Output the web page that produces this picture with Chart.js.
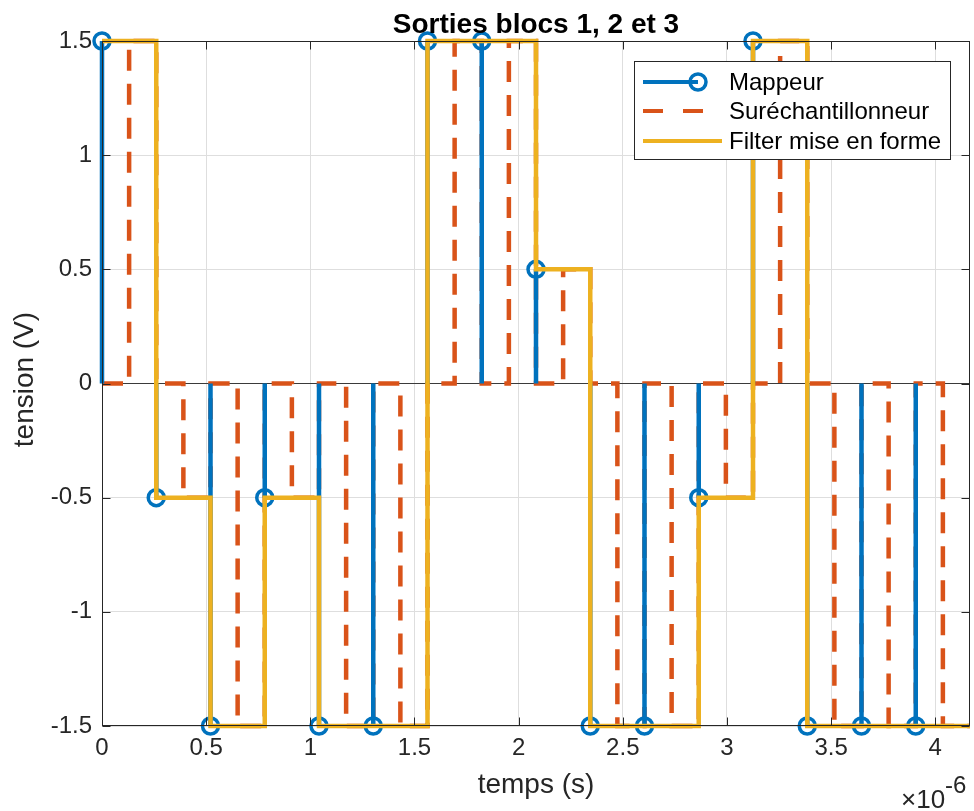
<!DOCTYPE html>
<html lang="fr">
<head>
<meta charset="utf-8">
<title>Sorties blocs 1, 2 et 3</title>
<script src="https://cdn.jsdelivr.net/npm/chart.js@4.4.1/dist/chart.umd.min.js"></script>
<style>
  html, body { margin: 0; padding: 0; background: #fff; overflow: hidden; }
  canvas { display: block; }
</style>
</head>
<body>
<canvas id="sortiesChart" width="974" height="811"></canvas>
<script>
// Données (axe des temps en µs, affiché avec x10^-6)
const Ts = 1 / 3.84; // période symbole en µs
const mappeur = [1.5, -0.5, -1.5, -0.5, -1.5, -1.5, 1.5, 1.5, 0.5, -1.5, -1.5, -0.5, 1.5, -1.5, -1.5, -1.5];
const surechantillonneur = [
    0, 1.5, 0, -0.5, 0, -1.5, 0, -0.5, 0, -1.5, 0, -1.5, 0, 1.5, 0, 1.5,
    0, 0.5, 0, -1.5, 0, -1.5, 0, -0.5, 0, 1.5, 0, -1.5, 0, -1.5, 0, -1.5
];
const filtreMiseEnForme = [1.5, -0.5, -1.5, -0.5, -1.5, -1.5, 1.5, 1.5, 0.5, -1.5, -1.5, -0.5, 1.5, -1.5, -1.5, -1.5];
const xTicks = [0, 0.5, 1, 1.5, 2, 2.5, 3, 3.5, 4];
const yTicks = [-1.5, -1, -0.5, 0, 0.5, 1, 1.5];
const legendLabels = ['Mappeur', 'Suréchantillonneur', 'Filter mise en forme'];

const BLUE = '#0072BD';
const RED = '#D95319';
const YELLOW = '#EDB120';
const AXIS = '#262626';
const FONT = "'Liberation Sans', Arial, Helvetica, sans-serif";
const RED_DASH = [21, 13];

document.addEventListener("DOMContentLoaded", () => {
    const xMax = mappeur.length * Ts;

    // stem : segments verticaux depuis 0, séparés par des trous
    const stemPts = [];
    mappeur.forEach((v, k) => {
        stemPts.push({ x: k * Ts, y: 0 }, { x: k * Ts, y: v }, { x: k * Ts, y: null });
    });
    const markerPts = mappeur.map((v, k) => ({ x: k * Ts, y: v }));

    // stairs façon MATLAB (dernier palier prolongé jusqu'à la fin)
    function stairs(vals, dt) {
        const pts = vals.map((v, i) => ({ x: i * dt, y: v }));
        pts.push({ x: xMax, y: vals[vals.length - 1] });
        return pts;
    }

    // zone de tracé fixe, comme l'axe MATLAB
    const cadre = {
        id: 'cadre',
        afterLayout(chart) {
            const a = chart.chartArea;
            a.left = 102; a.right = 970; a.top = 41; a.bottom = 726;
            a.width = a.right - a.left; a.height = a.bottom - a.top;
            const sx = chart.scales.x, sy = chart.scales.y;
            sx.left = a.left; sx.right = a.right; sx.width = a.width;
            sx.top = a.bottom; sx.bottom = 811; sx.height = 811 - a.bottom;
            sy.left = 0; sy.right = a.left; sy.width = a.left;
            sy.top = a.top; sy.bottom = a.bottom; sy.height = a.height;
            sx.configure();
            sy.configure();
        }
    };

    const habillage = {
        id: 'habillage',
        afterDatasetsDraw(chart) {
            const { ctx, chartArea: a, scales } = chart;
            const L = Math.round(a.left) + 0.5, R = Math.round(a.right) - 0.5;
            const T = Math.round(a.top) + 0.5, B = Math.round(a.bottom) - 0.5;
            ctx.save();
            ctx.strokeStyle = AXIS;
            ctx.lineWidth = 1;
            ctx.strokeRect(L, T, R - L, B - T);
            // graduations vers l'intérieur
            const tl = 8;
            ctx.beginPath();
            xTicks.forEach(v => {
                const px = Math.round(scales.x.getPixelForValue(v)) + 0.5;
                ctx.moveTo(px, B); ctx.lineTo(px, B - tl);
                ctx.moveTo(px, T); ctx.lineTo(px, T + tl);
            });
            yTicks.forEach(v => {
                const py = Math.round(scales.y.getPixelForValue(v)) + 0.5;
                ctx.moveTo(L, py); ctx.lineTo(L + tl, py);
                ctx.moveTo(R, py); ctx.lineTo(R - tl, py);
            });
            ctx.stroke();

            // légende
            const bx = 634.5, by = 61.5, bw = 316, bh = 98;
            ctx.fillStyle = '#fff';
            ctx.fillRect(bx, by, bw, bh);
            ctx.strokeStyle = AXIS;
            ctx.lineWidth = 1;
            ctx.strokeRect(bx, by, bw, bh);
            const rows = [82, 111, 141];
            ctx.lineWidth = 4;
            // Mappeur
            ctx.strokeStyle = BLUE;
            ctx.beginPath(); ctx.moveTo(643, rows[0]); ctx.lineTo(698, rows[0]); ctx.stroke();
            ctx.lineWidth = 3.5;
            ctx.beginPath(); ctx.arc(698, rows[0], 8, 0, Math.PI * 2); ctx.stroke();
            // Suréchantillonneur
            ctx.lineWidth = 4;
            ctx.strokeStyle = RED;
            ctx.setLineDash([20, 20]);
            ctx.beginPath(); ctx.moveTo(643, rows[1]); ctx.lineTo(703, rows[1]); ctx.stroke();
            ctx.setLineDash([]);
            // Filtre
            ctx.strokeStyle = YELLOW;
            ctx.beginPath(); ctx.moveTo(643, rows[2]); ctx.lineTo(722, rows[2]); ctx.stroke();
            ctx.fillStyle = '#000';
            ctx.font = '24px ' + FONT;
            ctx.textAlign = 'left';
            ctx.textBaseline = 'middle';
            legendLabels.forEach((txt, i) => ctx.fillText(txt, 729, rows[i] + 1));
            ctx.restore();
        },
        afterDraw(chart) {
            const { ctx, chartArea: a } = chart;
            ctx.save();
            const cx = (a.left + a.right) / 2;
            ctx.textAlign = 'center';
            ctx.textBaseline = 'alphabetic';
            ctx.fillStyle = '#000';
            ctx.font = 'bold 28px ' + FONT;
            ctx.fillText('Sorties blocs 1, 2 et 3', cx, 33);
            ctx.fillStyle = AXIS;
            ctx.font = '28px ' + FONT;
            ctx.fillText('temps (s)', cx, 793);
            ctx.save();
            ctx.translate(33, (a.top + a.bottom) / 2 - 4);
            ctx.rotate(-Math.PI / 2);
            ctx.fillText('tension (V)', 0, 0);
            ctx.restore();
            // multiplicateur de l'axe x
            ctx.textAlign = 'left';
            ctx.font = '26px ' + FONT;
            ctx.fillText('×10', 901, 808);
            const w = ctx.measureText('×10').width;
            ctx.font = '24px ' + FONT;
            ctx.fillText('-6', 901 + w, 793);
            ctx.restore();
        }
    };

    new Chart(document.getElementById("sortiesChart"), {
        type: 'line',
        data: {
            datasets: [
                {
                    label: legendLabels[2],
                    data: stairs(filtreMiseEnForme, Ts),
                    borderColor: YELLOW,
                    borderWidth: 4.5,
                    stepped: 'before',
                    pointRadius: 0,
                    fill: false,
                    clip: false,
                    order: 0
                },
                {
                    label: legendLabels[0] + ' (marqueurs)',
                    data: markerPts,
                    showLine: false,
                    pointStyle: 'circle',
                    pointRadius: 8,
                    pointBorderWidth: 3.5,
                    pointBorderColor: BLUE,
                    pointBackgroundColor: 'rgba(0,0,0,0)',
                    clip: false,
                    order: 1
                },
                {
                    label: legendLabels[0],
                    data: stemPts,
                    borderColor: BLUE,
                    borderWidth: 4.5,
                    spanGaps: false,
                    pointRadius: 0,
                    fill: false,
                    clip: false,
                    order: 2
                },
                {
                    label: legendLabels[1],
                    data: stairs(surechantillonneur, Ts / 2),
                    borderColor: RED,
                    borderWidth: 4.5,
                    borderDash: RED_DASH,
                    stepped: 'before',
                    pointRadius: 0,
                    fill: false,
                    clip: false,
                    order: 3
                },
                {
                    label: 'baseline',
                    data: [{ x: 0, y: 0 }, { x: xMax, y: 0 }],
                    borderColor: '#3a3a3a',
                    borderWidth: 1,
                    pointRadius: 0,
                    fill: false,
                    order: 4
                }
            ]
        },
        options: {
            responsive: false,
            animation: false,
            devicePixelRatio: 1,
            layout: { padding: { top: 41, right: 4, left: 0, bottom: 0 } },
            plugins: {
                legend: { display: false },
                title: { display: false },
                tooltip: { enabled: false }
            },
            elements: { line: { tension: 0 } },
            scales: {
                x: {
                    type: 'linear',
                    min: 0,
                    max: xMax,
                    afterBuildTicks: (scale) => { scale.ticks = xTicks.map(v => ({ value: v })); },
                    afterFit: (scale) => { scale.height = 85; },
                    grid: { color: '#dedede', lineWidth: 1, drawTicks: false },
                    border: { display: false },
                    ticks: {
                        padding: 8,
                        color: AXIS,
                        font: { family: FONT, size: 24 },
                        maxRotation: 0,
                        autoSkip: false,
                        callback: (v) => String(v)
                    }
                },
                y: {
                    type: 'linear',
                    min: -1.5,
                    max: 1.5,
                    afterBuildTicks: (scale) => { scale.ticks = yTicks.map(v => ({ value: v })); },
                    afterFit: (scale) => { scale.width = 102; },
                    grid: { color: '#dedede', lineWidth: 1, drawTicks: false },
                    border: { display: false },
                    ticks: {
                        padding: 10,
                        color: AXIS,
                        font: { family: FONT, size: 24 },
                        autoSkip: false,
                        callback: (v) => String(v)
                    }
                }
            }
        },
        plugins: [cadre, habillage]
    });
});
</script>
</body>
</html>
